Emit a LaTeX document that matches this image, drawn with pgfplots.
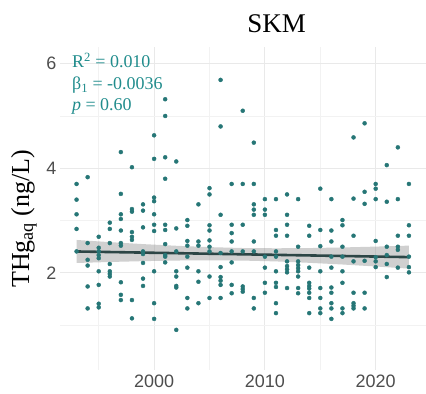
\documentclass[border=0pt]{standalone}
\usepackage{pgfplots}
\pgfplotsset{compat=1.18}
\usepackage{fontspec}
\setmainfont{Liberation Serif}
\newfontfamily\ticksans{Liberation Sans}
\definecolor{pt}{RGB}{38,118,118}
\definecolor{stat}{RGB}{32,140,140}
\definecolor{fitline}{RGB}{45,70,70}
\definecolor{gridmaj}{RGB}{233,233,233}
\definecolor{gridmin}{RGB}{242,242,242}
\definecolor{ticktext}{RGB}{77,77,77}
\pgfplotstableread{
x y
1993 3.70
1993 3.40
1993 3.12
1993 2.84
1993 2.41
1994 3.83
1994 2.57
1994 2.25
1994 2.14
1994 1.74
1994 1.32
1995 2.69
1995 2.48
1995 2.41
1995 2.34
1995 2.28
1995 2.03
1995 1.77
1995 1.41
1995 1.34
1996 2.96
1996 2.84
1996 2.57
1996 2.17
1996 2.03
1996 1.98
1996 1.93
1997 4.31
1997 3.51
1997 3.12
1997 3.03
1997 2.81
1997 2.57
1997 2.52
1997 1.82
1997 1.58
1997 1.48
1998 4.02
1998 3.22
1998 3.17
1998 2.78
1998 2.69
1998 2.63
1998 1.48
1998 1.13
1999 3.31
1999 3.19
1999 2.87
1999 2.41
1999 2.36
1999 2.19
1999 1.89
1999 1.75
2000 4.63
2000 4.18
2000 3.44
2000 3.37
2000 3.12
2000 2.92
2000 2.80
2000 2.03
2000 1.42
2000 1.12
2001 5.32
2001 5.00
2001 4.21
2001 3.80
2001 2.92
2001 2.82
2001 2.55
2001 2.34
2001 2.31
2001 2.20
2002 4.13
2002 2.85
2002 2.41
2002 2.03
2002 1.93
2002 1.75
2002 1.72
2002 0.91
2003 3.01
2003 2.90
2003 2.61
2003 2.52
2003 2.31
2003 2.10
2003 1.52
2003 1.32
2004 3.31
2004 2.60
2004 2.52
2004 2.03
2004 1.83
2004 1.42
2005 3.62
2005 3.50
2005 2.91
2005 2.81
2005 2.62
2005 2.50
2005 2.41
2005 1.93
2005 1.52
2006 5.69
2006 4.80
2006 3.11
2006 2.38
2006 2.11
2006 1.92
2006 1.85
2006 1.77
2006 1.52
2007 3.70
2007 2.92
2007 2.76
2007 2.60
2007 2.41
2007 2.20
2007 1.77
2007 1.61
2008 5.10
2008 3.70
2008 2.92
2008 2.41
2008 1.74
2008 1.69
2008 1.64
2009 4.49
2009 3.70
2009 3.31
2009 3.21
2009 3.11
2009 2.60
2009 2.41
2009 1.52
2009 1.32
2010 3.41
2010 3.21
2010 3.11
2010 2.31
2010 2.10
2010 1.81
2010 1.62
2011 3.41
2011 2.82
2011 2.71
2011 2.41
2011 2.31
2011 2.03
2011 1.81
2011 1.73
2011 1.42
2011 1.23
2012 3.50
2012 3.11
2012 2.92
2012 2.71
2012 2.22
2012 2.13
2012 2.07
2012 2.01
2012 1.71
2013 3.41
2013 2.50
2013 2.22
2013 2.15
2013 2.09
2013 2.03
2013 1.93
2013 1.71
2013 1.61
2014 2.90
2014 2.71
2014 2.10
2014 1.81
2014 1.75
2014 1.70
2014 1.62
2014 1.52
2014 1.23
2015 3.61
2015 2.82
2015 2.51
2015 2.03
2015 1.71
2015 1.52
2015 1.32
2015 1.23
2016 3.41
2016 2.81
2016 2.60
2016 2.31
2016 2.10
2016 1.72
2016 1.62
2016 1.42
2016 1.32
2016 1.12
2017 3.01
2017 2.91
2017 2.50
2017 2.31
2017 2.03
2017 1.81
2017 1.32
2017 1.23
2018 4.59
2018 3.42
2018 2.71
2018 2.22
2018 1.62
2018 1.42
2018 1.37
2018 1.32
2019 4.86
2019 3.55
2019 3.32
2019 2.23
2019 1.62
2019 1.32
2020 3.70
2020 3.61
2020 3.41
2020 2.61
2020 2.30
2020 2.22
2020 2.11
2021 4.06
2021 3.36
2021 2.50
2021 2.34
2021 2.17
2021 1.92
2022 4.40
2022 3.41
2022 2.71
2022 2.50
2022 2.44
2022 2.10
2023 3.70
2023 2.91
2023 2.71
2023 2.31
2023 2.11
2023 2.01
}\pointdata
\pgfplotstableread{
x y
1993 2.629
1996 2.588
1999 2.550
2002 2.518
2005 2.492
2008 2.475
2011 2.470
2014 2.474
2017 2.486
2020 2.502
2023 2.521
2023 2.081
2020 2.122
2017 2.160
2014 2.192
2011 2.219
2008 2.235
2005 2.240
2002 2.236
1999 2.224
1996 2.208
1993 2.189
}\banddata
\begin{document}
\begin{tikzpicture}[x=1pt,y=1pt]
\begin{axis}[at={(0,0)}, anchor=south west, scale only axis,
  width=366pt, height=323pt,
  xmin=1991.5, xmax=2024.5, ymin=0.15, ymax=6.32,
  xtick={2000,2010,2020}, minor xtick={1995,2005,2015},
  ytick={2,4,6}, minor ytick={1,3,5},
  grid=both,
  major grid style={gridmaj, line width=0.9pt},
  minor grid style={gridmin, line width=0.6pt},
  axis line style={draw=none},
  major tick length=0pt, minor tick length=0pt,
  /pgf/number format/1000 sep={},
  /pgf/number format/assume math mode=true,
  tick label style={font=\ticksans\fontsize{18}{18}\selectfont, text=ticktext},
  xticklabel style={yshift=-2pt},
  clip=false,
]
\addplot[only marks, mark=*, mark size=2pt, color=pt, mark options={draw=pt, fill=pt}] table {\pointdata};
\addplot[draw=none, fill={rgb,255:red,150;green,150;blue,150}, fill opacity=0.45] table {\banddata} -- cycle;
\addplot[fitline, line width=2.6pt] coordinates {(1993,2.409) (2023,2.301)};
\end{axis}
\node[anchor=base, font=\fontsize{27}{27}\selectfont] at (217,337) {SKM};
\node[rotate=90, anchor=center, font=\fontsize{26}{26}\selectfont] at (-36,151) {THg\textsubscript{aq} (ng/L)};
\node[anchor=base west, text=stat, font=\fontsize{18}{18}\selectfont, inner sep=0pt] at (12,302) {R\textsuperscript{2} = 0.010};
\node[anchor=base west, text=stat, font=\fontsize{18}{18}\selectfont, inner sep=0pt] at (12,280) {β\textsubscript{1} = -0.0036};
\node[anchor=base west, text=stat, font=\fontsize{18}{18}\selectfont, inner sep=0pt] at (12,259) {\textit{p} = 0.60};
\path[use as bounding box] (-60,-24) rectangle (366,370);
\end{tikzpicture}
\end{document}
